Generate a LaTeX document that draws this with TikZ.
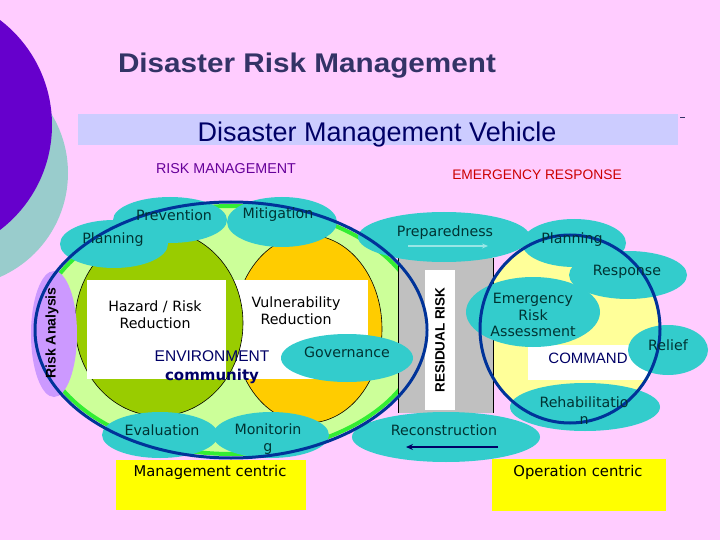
\documentclass[tikz,border=0pt]{standalone}
\usepackage{fontspec}
\usepackage{graphicx}
\usetikzlibrary{arrows.meta}
\setmainfont{Liberation Sans}
\newfontfamily\dvs{DejaVu Sans}
\newcommand{\fsz}[2]{\fontsize{#1}{#2}\selectfont}
\definecolor{bgpink}{HTML}{FFCCFF}
\definecolor{purplec}{HTML}{6600CC}
\definecolor{tealcirc}{HTML}{99CCCC}
\definecolor{bandc}{HTML}{CCCCFF}
\definecolor{titlec}{HTML}{333366}
\definecolor{vehc}{HTML}{000066}
\definecolor{rmc}{HTML}{660099}
\definecolor{erc}{HTML}{CC0000}
\definecolor{lightgreen}{HTML}{CCFF99}
\definecolor{brightgreen}{HTML}{33EE33}
\definecolor{olivec}{HTML}{99CC00}
\definecolor{orangec}{HTML}{FFCC00}
\definecolor{paleyellow}{HTML}{FFFF99}
\definecolor{grayc}{HTML}{C0C0C0}
\definecolor{rac}{HTML}{CC99FF}
\definecolor{cloudc}{HTML}{33CCCC}
\definecolor{ctextc}{HTML}{003333}
\definecolor{bluec}{HTML}{003399}
\definecolor{navyc}{HTML}{000066}
\definecolor{ybox}{HTML}{FFFF00}
\definecolor{palearrow}{HTML}{99E6E6}
\begin{document}
\begin{tikzpicture}[x=1pt,y=-1pt,
  cloud/.style={fill=cloudc},
  ctext/.style={font=\dvs\fsz{14.2}{16.8}, text=ctextc, inner sep=0pt, align=center},
  btext/.style={font=\dvs\fsz{14.2}{17}, text=black, inner sep=0pt, align=center},
  thinout/.style={draw=black, line width=0.6pt},
  ring/.style={draw=bluec, line width=3pt}]
\useasboundingbox (0,0) rectangle (720,540);
% background
\fill[bgpink] (0,0) rectangle (720,540);
\fill[tealcirc] (-45.5,173) circle [radius=113.5pt];
\fill[purplec] (-80,125) circle [radius=132pt];
% titles
\node[font=\bfseries\fsz{27}{30}, text=titlec, anchor=base, inner sep=0pt] (title) at (307,73) {\scalebox{1.1}[1]{Disaster Risk Management}};
\fill[bandc] (78,114) rectangle (678,145);
\draw[titlec, line width=1pt] (680,118) -- (685,118);
\node[font=\fsz{27}{30}, text=vehc, anchor=base, inner sep=0pt] (vehicle) at (377,142) {Disaster Management Vehicle};
\node[font=\fsz{14.3}{16}, text=rmc, inner sep=0pt] (rm) at (226,169) {RISK MANAGEMENT};
\node[font=\fsz{13.8}{16}, text=erc, inner sep=0pt] (er) at (537,175) {EMERGENCY RESPONSE};
% left big ring fill
\filldraw[fill=lightgreen, draw=brightgreen, line width=4pt] (231,330) ellipse [x radius=192pt, y radius=124pt];
% right circle fill
\fill[paleyellow] (570,329) ellipse [x radius=90pt, y radius=94pt];
% orange / olive circles and white boxes
\filldraw[fill=orangec, thinout] (308,329) ellipse [x radius=74pt, y radius=94pt];
\fill[white] (233,280) rectangle (368,379);
\filldraw[fill=olivec, thinout] (159,323) ellipse [x radius=84pt, y radius=93pt];
\fill[white] (87,280) rectangle (226,379);
% residual risk pillar
\fill[grayc] (398,258) rectangle (493,413);
\draw[black, line width=0.8pt] (398,258) -- (398,413);
\draw[black, line width=0.8pt] (493,258) -- (493,413);
\fill[white] (425,270) rectangle (455,410);
% risk analysis
\fill[rac] (54,334) ellipse [x radius=23pt, y radius=63pt];
% command box
\fill[white] (528,345) rectangle (650,380);
% clouds
\fill[cloud] (114,244) ellipse [x radius=54pt, y radius=24pt];
\fill[cloud] (170,220) ellipse [x radius=57pt, y radius=23pt];
\fill[cloud] (282,222) ellipse [x radius=55pt, y radius=25pt];
\fill[cloud] (444,237) ellipse [x radius=86pt, y radius=25pt];
\fill[cloud] (574,243) ellipse [x radius=52pt, y radius=24pt];
\fill[cloud] (628,275) ellipse [x radius=59pt, y radius=24pt];
\fill[cloud] (533,312) ellipse [x radius=67pt, y radius=35pt];
\fill[cloud] (668,350) ellipse [x radius=40pt, y radius=25pt];
\fill[cloud] (347,358) ellipse [x radius=66pt, y radius=24pt];
\fill[cloud] (160,435) ellipse [x radius=58pt, y radius=23pt];
\fill[cloud] (271,435) ellipse [x radius=58pt, y radius=23pt];
\fill[cloud] (446,437) ellipse [x radius=94pt, y radius=25pt];
\fill[cloud] (585,407) ellipse [x radius=75pt, y radius=24pt];
% blue rings
\draw[ring] (231,330) ellipse [x radius=196pt, y radius=128pt];
\draw[ring] (570,329) ellipse [x radius=90pt, y radius=94pt];
% arrows
\coordinate (prepA) at (408,246);
\coordinate (prepB) at (488,246);
\draw[palearrow, line width=1.4pt, -{Stealth[length=6pt,width=5pt]}] (prepA) -- (prepB);
\coordinate (recA) at (498,447);
\coordinate (recB) at (406,447);
\draw[navyc, line width=1.6pt, -{Stealth[length=7pt,width=6pt]}] (recA) -- (recB);
% cloud texts
\node[ctext] (prevention) at (174,215) {Prevention};
\node[ctext] (planningL) at (113,240) {Planning};
\node[ctext] (mitigation) at (278,215) {Mitigation};
\node[ctext] (preparedness) at (445,233) {Preparedness};
\node[ctext] (planningR) at (572,240) {Planning};
\node[ctext] (response) at (627,272) {Response};
\node[ctext] (era) at (533,315) {Emergency\\Risk\\Assessment};
\node[ctext] (relief) at (668,345) {Relief};
\node[ctext] (governance) at (347,352) {Governance};
\node[ctext] (evaluation) at (162,430) {Evaluation};
\node[ctext] (monitoring) at (268,439) {Monitorin\\g};
\node[ctext] (reconstruction) at (444,430) {Reconstruction};
\node[ctext] (rehab) at (584,411) {Rehabilitatio\\n};
% box texts
\node[btext] (hazard) at (155,315) {Hazard / Risk\\Reduction};
\node[btext] (vuln) at (296,311) {Vulnerability\\Reduction};
\node[font=\fsz{15.5}{17}, text=navyc, inner sep=0pt] (environment) at (212,356) {ENVIRONMENT};
\node[font=\dvs\bfseries\fsz{15}{17}, text=navyc, inner sep=0pt] (community) at (212,376) {community};
\node[font=\fsz{15}{17}, text=navyc, inner sep=0pt] (command) at (588,358) {COMMAND};
\node[font=\bfseries\fsz{13.5}{15}, text=black, inner sep=0pt, rotate=90] (residual) at (440,340) {RESIDUAL RISK};
\node[font=\bfseries\fsz{14}{15}, text=black, inner sep=0pt, rotate=90] (riskan) at (52,333) {Risk Analysis};
% yellow boxes
\fill[ybox] (116,460) rectangle (306,510);
\fill[ybox] (492,459) rectangle (666,511);
\node[btext, font=\dvs\fsz{14.8}{17}] (mgmt) at (210,472) {Management centric};
\node[btext, font=\dvs\fsz{14.8}{17}] (oper) at (578,472) {Operation centric};
\end{tikzpicture}
\end{document}
